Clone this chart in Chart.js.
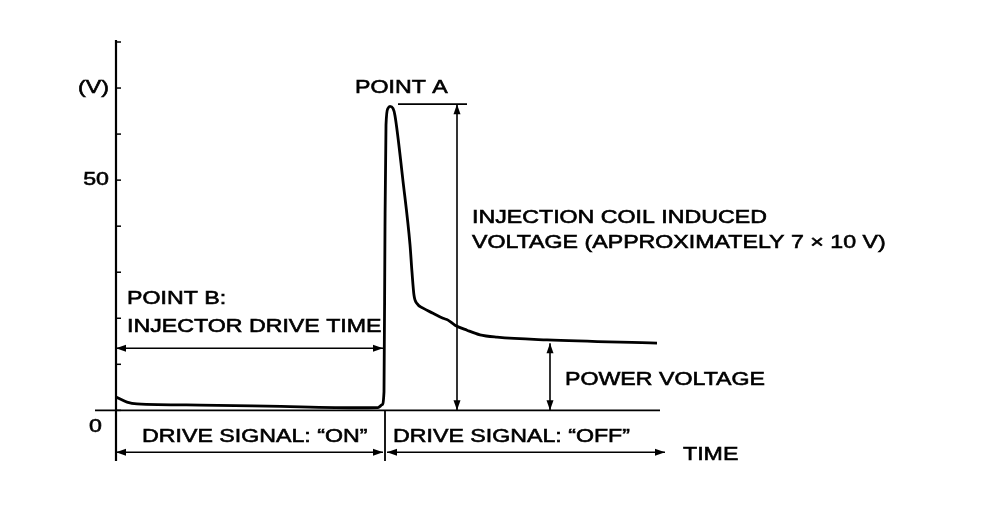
<!DOCTYPE html>
<html>
<head>
<meta charset="utf-8">
<script src="https://cdn.jsdelivr.net/npm/chart.js@4/dist/chart.umd.min.js"></script>
<style>
  body { margin: 0; background: #fff; }
  canvas { display: block; }
</style>
</head>
<body>
<canvas id="waveChart" width="992" height="522"></canvas>
<script>
// injector waveform, time in arbitrary units, voltage in V
const timeMs = [0, 0.11, 0.21, 0.84, 1.51, 2.44, 2.62, 2.66, 2.68, 2.69, 2.70, 2.72, 2.74, 2.77, 2.79,
  2.87, 2.94, 2.96, 2.98, 3.01, 3.07, 3.17, 3.27, 3.32, 3.39, 3.51, 3.64, 3.81, 4.31, 5.41];
const voltage = [2.9, 1.8, 1.4, 1.15, 0.93, 0.56, 0.6, 1.2, 4, 40, 62, 65.6, 66.0, 65.6, 64.0,
  49.8, 36, 30, 25, 23.2, 22.2, 21.1, 20.0, 19.6, 18.5, 17.4, 16.4, 15.9, 15.3, 14.6];
const yTicks = [0, 10, 20, 30, 40, 50, 60, 70, 80];
const yTickLabels = { 0: '0', 50: '50', 70: '(V)' };

const driveOff = 2.69;
const peakVolt = 66.5;
const powerVolt = 14.6;

// text notes placed in data units (x = time, y = volt)
const notes = [
  { text: 'POINT A', x: 2.39, y: 70.0 },
  { text: 'INJECTION COIL INDUCED', x: 3.56, y: 41.8 },
  { text: 'VOLTAGE (APPROXIMATELY 7 \u00d7 10 V)', x: 3.56, y: 36.3 },
  { text: 'POINT B:', x: 0.11, y: 24.2 },
  { text: 'INJECTOR DRIVE TIME', x: 0.11, y: 18.1 },
  { text: 'POWER VOLTAGE', x: 4.49, y: 6.6 },
  { text: 'DRIVE SIGNAL: \u201cON\u201d', x: 0.26, y: -5.8 },
  { text: 'DRIVE SIGNAL: \u201cOFF\u201d', x: 2.77, y: -5.8 },
  { text: 'TIME', x: 5.67, y: -9.7 }
];

const FONT = '19px "Liberation Sans", Arial, sans-serif';
const STRETCH = 1.22;

function drawText(ctx, text, x, y, align) {
  ctx.save();
  ctx.translate(x, y);
  ctx.scale(STRETCH, 1);
  ctx.textAlign = align || 'left';
  ctx.lineWidth = 0.6;
  ctx.fillText(text, 0, 0);
  ctx.strokeText(text, 0, 0); // scanned text looks heavier
  ctx.restore();
}

function head(ctx, x, y, ang) {
  const len = 10, w = 3.5;
  ctx.save();
  ctx.translate(x, y);
  ctx.rotate(ang);
  ctx.beginPath();
  ctx.moveTo(0, 0);
  ctx.lineTo(-len, -w);
  ctx.lineTo(-len, w);
  ctx.closePath();
  ctx.fill();
  ctx.restore();
}

function line(ctx, x1, y1, x2, y2, lw) {
  ctx.lineWidth = lw || 1.5;
  ctx.beginPath();
  ctx.moveTo(x1, y1);
  ctx.lineTo(x2, y2);
  ctx.stroke();
}

function dblArrow(ctx, x1, y1, x2, y2) {
  line(ctx, x1, y1, x2, y2, 1.6);
  const a = Math.atan2(y2 - y1, x2 - x1);
  head(ctx, x2, y2, a);
  head(ctx, x1, y1, a + Math.PI);
}

const diagramPlugin = {
  id: 'diagram',
  afterDatasetsDraw(chart) {
    const ctx = chart.ctx;
    const area = chart.chartArea;
    const px = v => chart.scales.x.getPixelForValue(v);
    const py = v => chart.scales.y.getPixelForValue(v);
    const x0 = px(0), y0 = py(0);

    ctx.save();
    ctx.strokeStyle = '#000';
    ctx.fillStyle = '#000';
    ctx.font = FONT;
    ctx.textBaseline = 'middle';

    // axes
    line(ctx, x0, area.top - 2, x0, area.bottom, 2.2);
    line(ctx, x0 - 21, y0, px(5.44), y0, 1.8);
    yTicks.forEach(t => line(ctx, x0, py(t), x0 + 5, py(t), 1.5));
    Object.keys(yTickLabels).forEach(k => {
      const v = Number(k);
      const off = v === 0 ? 14 : 7;
      drawText(ctx, yTickLabels[k], x0 - off, v === 0 ? py(v) + 16 : py(v), 'right');
    });

    // drive on/off boundary
    line(ctx, px(driveOff), y0, px(driveOff), area.bottom, 1.8);

    // point A reference and induced voltage arrow
    line(ctx, px(2.82), py(peakVolt), px(3.51), py(peakVolt), 1.6);
    dblArrow(ctx, px(3.41), py(peakVolt), px(3.41), y0);

    // power voltage arrow
    dblArrow(ctx, px(4.34), py(powerVolt), px(4.34), y0);

    // injector drive time arrow
    dblArrow(ctx, x0, py(13.5), px(driveOff - 0.02), py(13.5));

    // drive signal arrows
    dblArrow(ctx, x0, py(-9.1), px(driveOff - 0.02), py(-9.1));
    dblArrow(ctx, px(driveOff + 0.02), py(-9.1), px(5.49), py(-9.1));

    notes.forEach(n => drawText(ctx, n.text, px(n.x), py(n.y)));
    ctx.restore();
  }
};

new Chart(document.getElementById('waveChart'), {
  type: 'line',
  data: {
    datasets: [{
      data: timeMs.map((t, i) => ({ x: t, y: voltage[i] })),
      borderColor: '#000',
      borderWidth: 2.8,
      pointRadius: 0,
      cubicInterpolationMode: 'monotone',
      fill: false
    }]
  },
  options: {
    responsive: false,
    animation: false,
    layout: { padding: { left: 116, right: 316, top: 42, bottom: 61 } },
    scales: {
      x: { type: 'linear', min: 0, max: 5.6, display: false },
      y: { min: -11, max: 80, display: false }
    },
    plugins: { legend: { display: false }, tooltip: { enabled: false } }
  },
  plugins: [diagramPlugin]
});
</script>
</body>
</html>
